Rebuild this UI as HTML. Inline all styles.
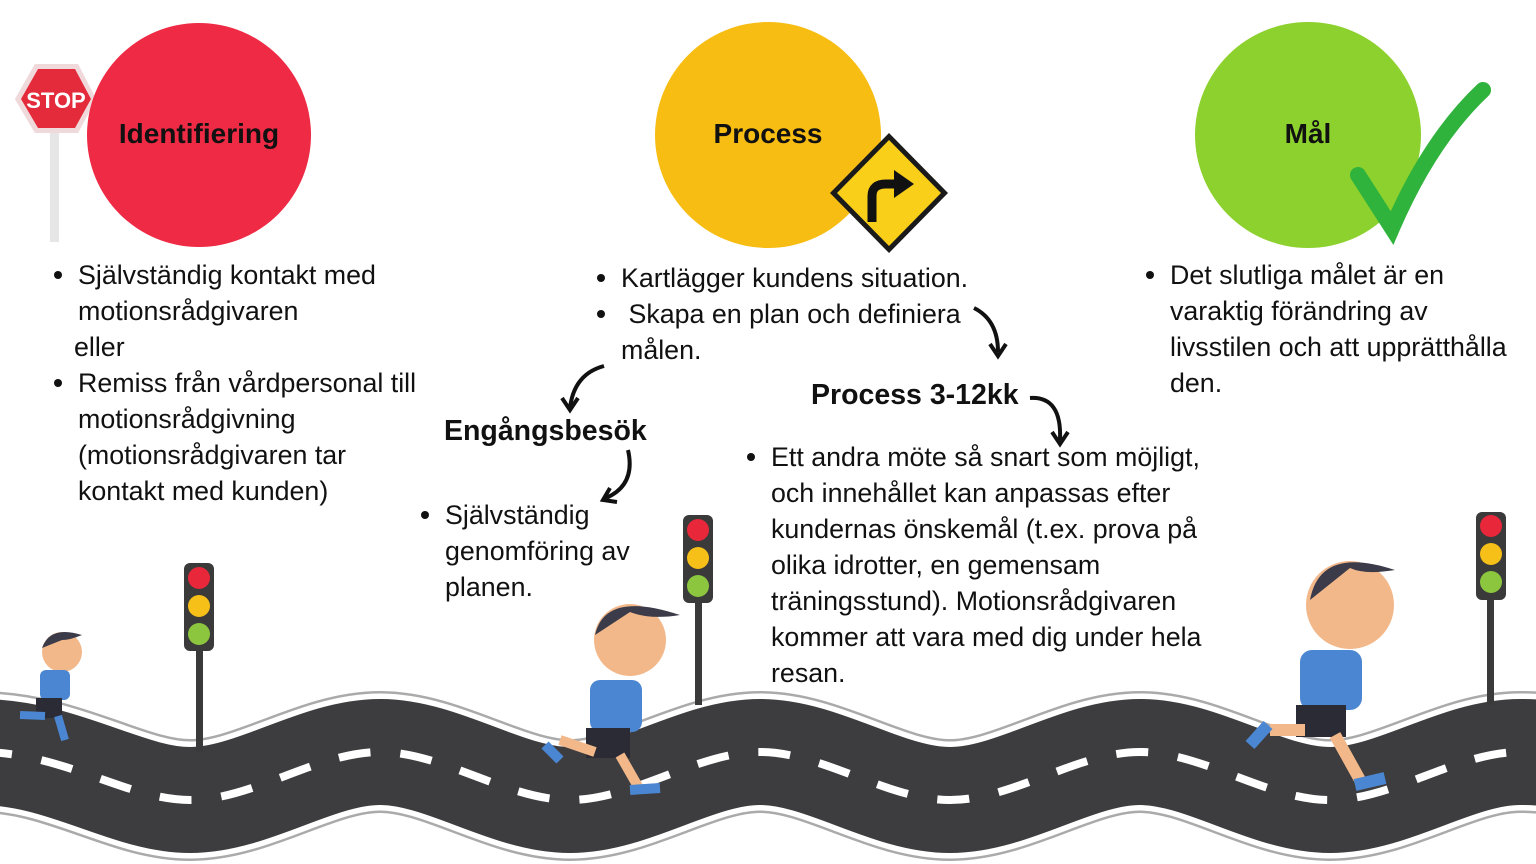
<!DOCTYPE html>
<html><head><meta charset="utf-8"><style>
body{margin:0;width:1536px;height:864px;overflow:hidden;background:#fff;font-family:"Liberation Sans",sans-serif;}
.t{position:absolute;font-size:26.8px;line-height:36px;color:#111;white-space:nowrap}
.t ul{margin:0;padding:0;list-style:none}
.t li{position:relative}
.t li:before{content:"";position:absolute;left:-24px;top:14px;width:8px;height:8px;border-radius:50%;background:#111}
.h{position:absolute;font-weight:bold;font-size:28.5px;color:#111;white-space:nowrap}
</style></head><body>
<svg width="1536" height="864" style="position:absolute;left:0;top:0">
<polygon points="35,64 78,64 96,99 78,133 35,133 15,99" fill="#f0d9db"/>
<rect x="50" y="120" width="9" height="122" fill="#e6e6e6"/>
<polygon points="35,64 78,64 96,99 78,133 35,133 15,99" fill="#f0d9db"/>
<polygon points="38,69 75,69 91,99 75,128 38,128 21,99" fill="#e42b3b"/>
<text x="56" y="108" font-family="Liberation Sans" font-weight="bold" font-size="22" fill="#fff" text-anchor="middle">STOP</text>
<circle cx="199" cy="135" r="112" fill="#ee2a45"/>
<circle cx="768" cy="135" r="113" fill="#f7bd13"/>
<circle cx="1308" cy="135" r="113" fill="#8dd12e"/>
<polygon points="889,133 948,193 889,253 830,193" fill="#1a1a1a"/>
<polygon points="889,140 941,193 889,246 837,193" fill="#f9cf1a"/>
<path d="M872,222 L872,196 Q872,184 886,184 L896,184" stroke="#111" stroke-width="9" fill="none"/>
<polygon points="894,170 914,184 894,198" fill="#111"/>
<path d="M1358,175 L1392,228 Q1430,140 1483,90" stroke="#2fb33c" stroke-width="16" fill="none" stroke-linecap="round"/>
<g stroke="#111" stroke-width="4" fill="none">
<path d="M974,308 Q998,320 998,352"/><path d="M990,344 L998,356 L1006,344"/>
<path d="M604,366 Q574,374 570,408"/><path d="M562,398 L570,410 L578,398"/>
<path d="M628,450 Q636,485 606,498"/><path d="M610,488 L603,500 L617,502"/>
<path d="M1030,398 Q1062,396 1060,440"/><path d="M1052,432 L1060,444 L1068,432"/>
</g>
<g fill="none">
<path d="M-20,752 C63,752 127,800 190,800 S317,752 380,752 S507,800 570,800 S697,752 760,752 S887,800 950,800 S1077,752 1140,752 S1267,800 1330,800 S1457,752 1520,752 S1580,770 1600,780" stroke="#aaa" stroke-width="122"/>
<path d="M-20,752 C63,752 127,800 190,800 S317,752 380,752 S507,800 570,800 S697,752 760,752 S887,800 950,800 S1077,752 1140,752 S1267,800 1330,800 S1457,752 1520,752 S1580,770 1600,780" stroke="#fff" stroke-width="117"/>
<path d="M-20,752 C63,752 127,800 190,800 S317,752 380,752 S507,800 570,800 S697,752 760,752 S887,800 950,800 S1077,752 1140,752 S1267,800 1330,800 S1457,752 1520,752 S1580,770 1600,780" stroke="#3d3d3f" stroke-width="106"/>
<path d="M-20,752 C63,752 127,800 190,800 S317,752 380,752 S507,800 570,800 S697,752 760,752 S887,800 950,800 S1077,752 1140,752 S1267,800 1330,800 S1457,752 1520,752 S1580,770 1600,780" stroke="#fff" stroke-width="8" stroke-dasharray="32 30"/>
</g>
<g>
<rect x="196" y="640" width="7" height="112" fill="#3a3a3a"/>
<rect x="184" y="563" width="30" height="88" rx="6" fill="#3a3a3a"/>
<circle cx="199" cy="578" r="11" fill="#e8283a"/><circle cx="199" cy="606" r="11" fill="#f7c018"/><circle cx="199" cy="634" r="11" fill="#8cc63f"/>
<rect x="695" y="590" width="7" height="115" fill="#3a3a3a"/>
<rect x="683" y="515" width="30" height="88" rx="6" fill="#3a3a3a"/>
<circle cx="698" cy="530" r="11" fill="#e8283a"/><circle cx="698" cy="558" r="11" fill="#f7c018"/><circle cx="698" cy="586" r="11" fill="#8cc63f"/>
<rect x="1487" y="590" width="7" height="115" fill="#3a3a3a"/>
<rect x="1476" y="512" width="30" height="88" rx="6" fill="#3a3a3a"/>
<circle cx="1491" cy="526" r="11" fill="#e8283a"/><circle cx="1491" cy="554" r="11" fill="#f7c018"/><circle cx="1491" cy="582" r="11" fill="#8cc63f"/>
</g>
<g>
<circle cx="62" cy="652" r="20" fill="#f2b88a"/><path d="M42,648 Q50,625 82,635 Q70,640 62,640 Z" fill="#3b3b4a"/>
<rect x="40" y="670" width="30" height="30" rx="6" fill="#4a86d1"/><rect x="36" y="698" width="26" height="20" fill="#2b2b35"/>
<path d="M45,716 L20,715 M58,716 L65,740" stroke="#4a86d1" stroke-width="8"/>
<circle cx="630" cy="640" r="36" fill="#f2b88a"/><path d="M595,635 Q605,590 680,615 Q650,620 630,612 Z" fill="#3b3b4a"/>
<rect x="590" y="680" width="52" height="52" rx="10" fill="#4a86d1"/><rect x="586" y="728" width="44" height="30" fill="#2b2b35"/>
<path d="M595,752 L560,740 M620,755 L640,790" stroke="#f2b88a" stroke-width="10"/>
<path d="M545,745 L560,760 M630,790 L660,788" stroke="#4a86d1" stroke-width="10"/>
<circle cx="1350" cy="605" r="44" fill="#f2b88a"/><path d="M1310,600 Q1320,545 1395,570 Q1365,575 1350,568 Z" fill="#3b3b4a"/>
<rect x="1300" y="650" width="62" height="60" rx="12" fill="#4a86d1"/><rect x="1296" y="705" width="50" height="32" fill="#2b2b35"/>
<path d="M1305,730 L1270,730 M1335,735 L1360,780" stroke="#f2b88a" stroke-width="12"/>
<path d="M1250,745 L1268,725 M1355,785 L1385,778" stroke="#4a86d1" stroke-width="12"/>
</g>
</svg>
<div style="position:absolute;left:87px;top:118px;width:224px;text-align:center;font-weight:bold;font-size:28px;color:#111">Identifiering</div>
<div style="position:absolute;left:655px;top:118px;width:226px;text-align:center;font-weight:bold;font-size:28px;color:#111">Process</div>
<div style="position:absolute;left:1195px;top:118px;width:226px;text-align:center;font-weight:bold;font-size:28px;color:#111">Mål</div>
<div class="t" style="left:78px;top:257px"><ul><li>Självständig kontakt med<br>motionsrådgivaren<br><span style="margin-left:-4px">eller</span></li><li>Remiss från vårdpersonal till<br>motionsrådgivning<br>(motionsrådgivaren tar<br>kontakt med kunden)</li></ul></div>
<div class="t" style="left:621px;top:260px"><ul><li>Kartlägger kundens situation.</li><li>&nbsp;Skapa en plan och definiera<br>målen.</li></ul></div>
<div class="t" style="left:1170px;top:257px"><ul><li>Det slutliga målet är en<br>varaktig förändring av<br>livsstilen och att upprätthålla<br>den.</li></ul></div>
<div class="h" style="left:811px;top:379px">Process 3-12kk</div>
<div class="h" style="left:444px;top:415px">Engångsbesök</div>
<div class="t" style="left:445px;top:497px"><ul><li>Självständig<br>genomföring av<br>planen.</li></ul></div>
<div class="t" style="left:771px;top:439px"><ul><li>Ett andra möte så snart som möjligt,<br>och innehållet kan anpassas efter<br>kundernas önskemål (t.ex. prova på<br>olika idrotter, en gemensam<br>träningsstund). Motionsrådgivaren<br>kommer att vara med dig under hela<br>resan.</li></ul></div>
</body></html>
